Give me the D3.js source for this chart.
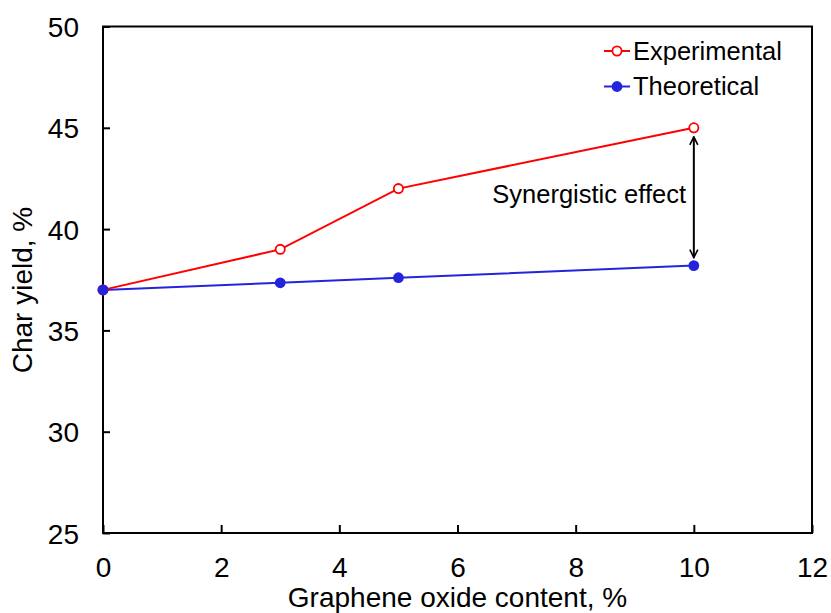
<!DOCTYPE html>
<html><head><meta charset="utf-8">
<script src="https://cdn.jsdelivr.net/npm/d3@7/dist/d3.min.js"></script>
<style>body{margin:0;background:#fff}svg{display:block}text{font-family:"Liberation Sans",Arial,sans-serif}</style>
</head><body><svg id="c" width="831" height="613"></svg>
<script>
const grapheneContent = [0, 3, 5, 10];
const experimental = [37.0, 39.0, 42.0, 45.0];
const theoretical = [37.0, 37.35, 37.6, 38.2];
const xTicks = [0, 2, 4, 6, 8, 10, 12];
const yTicks = [25, 30, 35, 40, 45, 50];
const seriesNames = ["Experimental", "Theoretical"];
const annotation = "Synergistic effect";

const svg = d3.select("#c");
const m = {l:103, r:19, t:26.5, b:80};
const W = 831, H = 613;
const x = d3.scaleLinear().domain([0,12]).range([m.l, W-m.r]);
const y = d3.scaleLinear().domain([25,50]).range([H-m.b, m.t]);
const red = "#ff0000", blue = "#2424dc";
const fsTick = 28, fsTitle = 28, fsLeg = 25.5;

// frame
svg.append("rect").attr("x",x(0)).attr("y",y(50)).attr("width",x(12)-x(0)).attr("height",y(25)-y(50))
  .attr("fill","none").attr("stroke","#000").attr("stroke-width",2);

// x ticks
const gx = svg.append("g").attr("transform",`translate(0,${y(25)})`);
gx.call(d3.axisBottom(x).tickValues(d3.range(1,12,2)).tickSize(-5).tickFormat(""))
  .call(g=>g.select(".domain").remove());
gx.call(d3.axisBottom(x).tickValues(xTicks).tickSize(-8).tickFormat(d3.format("d")))
  .call(g=>g.selectAll(".domain").remove());
gx.selectAll("line").attr("stroke-width",2);
gx.selectAll("text").attr("font-size",fsTick).attr("fill","#000").attr("dy",null).attr("y",44);

const gy = svg.append("g").attr("transform",`translate(${x(0)},0)`);
gy.call(d3.axisLeft(y).tickValues(d3.range(27.5,50,5)).tickSize(-7).tickFormat(""))
  .call(g=>g.select(".domain").remove());
gy.call(d3.axisLeft(y).tickValues(yTicks).tickSize(-7).tickFormat(d3.format("d")))
  .call(g=>g.selectAll(".domain").remove());
gy.selectAll("line").attr("stroke-width",2);
gy.selectAll("text").attr("font-size",fsTick).attr("fill","#000").attr("x",-24).attr("dy","0.36em");

// axis titles
svg.append("text").attr("x",(x(0)+x(12))/2).attr("y",607).attr("text-anchor","middle")
  .attr("font-size",fsTitle).text("Graphene oxide content, %");
svg.append("text").attr("transform",`translate(32,290) rotate(-90)`).attr("text-anchor","middle")
  .attr("font-size",fsTitle).text("Char yield, %");

const line = d3.line().x((d,i)=>x(grapheneContent[i])).y(d=>y(d));
svg.append("path").datum(theoretical).attr("d",line).attr("fill","none").attr("stroke",blue).attr("stroke-width",2);
svg.append("path").datum(experimental).attr("d",line).attr("fill","none").attr("stroke",red).attr("stroke-width",2);
svg.selectAll(".ep").data(experimental).join("circle").attr("cx",(d,i)=>x(grapheneContent[i])).attr("cy",d=>y(d))
  .attr("r",4.6).attr("fill","#fff").attr("stroke",red).attr("stroke-width",1.8);
svg.selectAll(".tp").data(theoretical).join("circle").attr("cx",(d,i)=>x(grapheneContent[i])).attr("cy",d=>y(d))
  .attr("r",5.4).attr("fill",blue);

// arrow
const defs = svg.append("defs");
defs.append("marker").attr("id","ah").attr("viewBox","0 0 10 10").attr("refX",9).attr("refY",5)
  .attr("markerWidth",5).attr("markerHeight",5).attr("orient","auto-start-reverse").attr("markerUnits","strokeWidth")
  .append("path").attr("d","M1,1 L9,5 L1,9").attr("fill","none").attr("stroke","#000").attr("stroke-width",1.6);
const ax = x(10);
svg.append("line").attr("x1",ax).attr("x2",ax).attr("y1",y(45)+9).attr("y2",y(38.2)-8)
  .attr("stroke","#000").attr("stroke-width",2).attr("marker-start","url(#ah)").attr("marker-end","url(#ah)");
svg.append("text").attr("x",686).attr("y",203).attr("text-anchor","end")
  .attr("font-size",fsLeg).text(annotation);

// legend
const leg = [{n:seriesNames[0],c:red,open:true,yy:51,by:59.5},{n:seriesNames[1],c:blue,open:false,yy:86.5,by:94.5}];
leg.forEach(L=>{
  svg.append("line").attr("x1",604).attr("x2",630).attr("y1",L.yy).attr("y2",L.yy).attr("stroke",L.c).attr("stroke-width",2);
  svg.append("circle").attr("cx",617).attr("cy",L.yy).attr("r",L.open?4.6:5.4)
    .attr("fill",L.open?"#fff":L.c).attr("stroke",L.open?L.c:"none").attr("stroke-width",1.8);
  svg.append("text").attr("x",633).attr("y",L.by).attr("font-size",fsLeg).text(L.n);
});
</script></body></html>
